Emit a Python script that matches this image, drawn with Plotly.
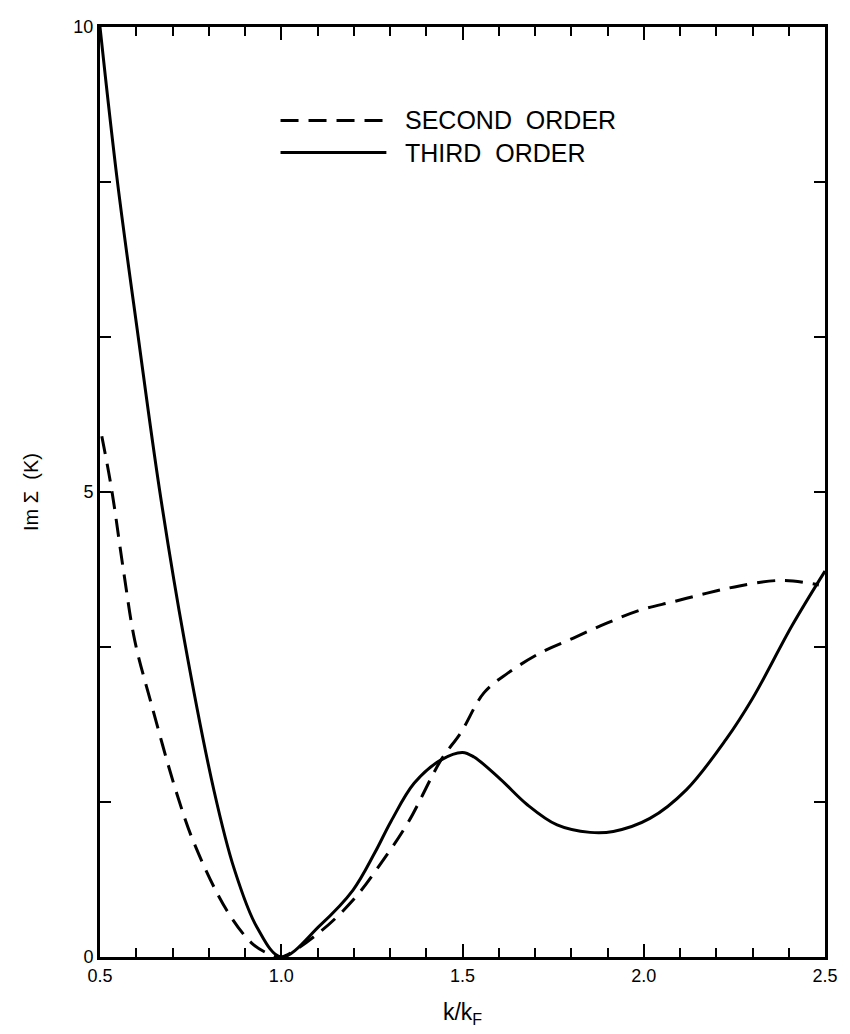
import plotly.graph_objects as go

# Imaginary part of the self-energy vs k/kF
k_second = [0.505, 0.532, 0.565, 0.596, 0.641, 0.71, 0.76, 0.85, 0.924, 0.975, 1.0,
            1.107, 1.2, 1.27, 1.349, 1.441, 1.495, 1.559, 1.624, 1.715, 1.806,
            1.898, 1.99, 2.081, 2.172, 2.264, 2.383, 2.483]
im_second = [5.6, 5.03, 4.15, 3.4, 2.73, 1.78, 1.22, 0.5, 0.13, 0.02, 0.0,
             0.27, 0.62, 0.98, 1.44, 2.12, 2.41, 2.84, 3.05, 3.27, 3.43,
             3.59, 3.73, 3.82, 3.91, 3.99, 4.05, 4.0]

k_third = [0.5, 0.548, 0.605, 0.664, 0.733, 0.815, 0.87, 0.933, 1.0,
           1.107, 1.198, 1.258, 1.303, 1.367, 1.441, 1.5, 1.532, 1.605,
           1.678, 1.761, 1.852, 1.916, 2.017, 2.118, 2.227, 2.3, 2.41, 2.5]
im_third = [10.0, 8.34, 6.68, 5.03, 3.4, 1.78, 0.95, 0.32, 0.0,
            0.34, 0.72, 1.12, 1.46, 1.87, 2.12, 2.2, 2.15, 1.91,
            1.64, 1.42, 1.34, 1.35, 1.49, 1.80, 2.34, 2.78, 3.57, 4.15]

legend_labels = ["SECOND  ORDER", "THIRD  ORDER"]

FONT = "Liberation Sans, Arial, sans-serif"
LW = 3

fig = go.Figure()
fig.add_trace(go.Scatter(x=k_second, y=im_second, mode="lines",
                         line=dict(color="black", width=LW, dash="18px,10px",
                                   shape="spline", smoothing=1.0),
                         showlegend=False))
fig.add_trace(go.Scatter(x=k_third, y=im_third, mode="lines",
                         line=dict(color="black", width=LW,
                                   shape="spline", smoothing=1.0),
                         showlegend=False))

# legend samples and labels
legend_rows = [(0.8995, "18px,10px"), (0.865, "solid")]
for (yy, dash), label in zip(legend_rows, legend_labels):
    fig.add_shape(type="line", xref="paper", yref="paper",
                  x0=0.249, x1=0.395, y0=yy, y1=yy,
                  line=dict(color="black", width=LW, dash=dash))
    fig.add_annotation(xref="paper", yref="paper", x=0.418, y=yy,
                       text=label, showarrow=False, xanchor="left",
                       yanchor="middle",
                       font=dict(family=FONT, size=25, color="black"))

fig.update_xaxes(range=[0.5, 2.5], tick0=0.5, dtick=0.5, tickformat=".1f",
                 ticks="inside", ticklen=13, tickwidth=2, tickcolor="black",
                 minor=dict(tick0=0.5, dtick=0.1, ticks="inside", ticklen=9,
                            tickwidth=2, tickcolor="black", showgrid=False),
                 showline=True, linewidth=LW, linecolor="black", mirror="ticks",
                 showgrid=False, zeroline=False,
                 tickfont=dict(family=FONT, size=18, color="black"),
                 title=dict(text="k/k<sub>F</sub>", standoff=20,
                            font=dict(family=FONT, size=23, color="black")))
fig.update_yaxes(range=[0, 10], tick0=0, dtick=5,
                 ticks="inside", ticklen=11, tickwidth=2, tickcolor="black",
                 minor=dict(tick0=0, dtick=5 / 3, ticks="inside", ticklen=11,
                            tickwidth=2, tickcolor="black", showgrid=False),
                 showline=True, linewidth=LW, linecolor="black", mirror="ticks",
                 showgrid=False, zeroline=False,
                 tickfont=dict(family=FONT, size=18, color="black"),
                 title=dict(text="Im Σ  (K)", standoff=30,
                            font=dict(family=FONT, size=20, color="black")))

fig.update_layout(width=850, height=1034,
                  margin=dict(l=100, r=16, t=27, b=72),
                  plot_bgcolor="white", paper_bgcolor="white")

fig.write_html("out.html")
